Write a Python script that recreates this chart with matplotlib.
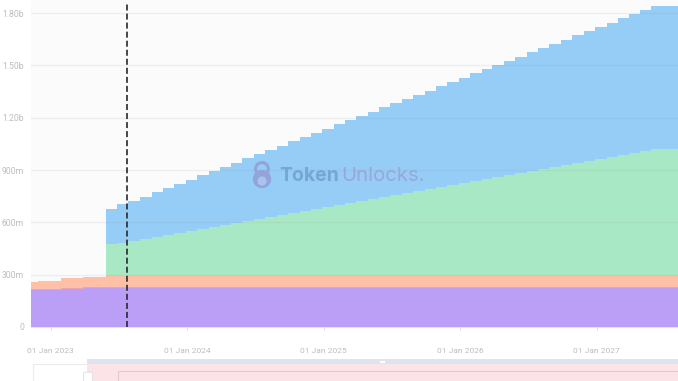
import pandas as pd
from matplotlib import pyplot as plt
from matplotlib.patches import Circle, FancyBboxPatch, Rectangle

W, H = 678, 381

# month starts of each unlock step, they fall near the 28th in the source chart
dates = pd.date_range('2022-10-28', '2027-08-28', freq=pd.DateOffset(months=1))
unlock_start = 7

# cumulative tops of the stack, in millions
purple_top = [216, 216, 216, 225, 225, 231, 231] + [231] * 52
salmon_top = [258, 264, 264, 279, 279, 288, 288] + [291] * 52
green_top = [476, 484, 495, 506, 518, 529, 540, 552, 563, 574, 586, 597, 608, 620, 631,
             643, 654, 665, 677, 688, 699, 711, 722, 734, 745, 756, 768, 779, 790, 802,
             813, 825, 836, 847, 859, 870, 881, 893, 904, 916, 927, 938, 950, 961, 973,
             985, 997, 1009, 1021, 1021, 1021, 1021]
blue_top = [676, 703, 724, 748, 772, 797, 821, 845, 870, 894, 918, 943, 967, 991, 1016,
            1040, 1064, 1089, 1113, 1137, 1162, 1186, 1210, 1235, 1259, 1283, 1308, 1332,
            1356, 1381, 1405, 1429, 1454, 1478, 1502, 1527, 1551, 1575, 1600, 1624, 1648,
            1672, 1697, 1721, 1745, 1769, 1793, 1817, 1841, 1841, 1841, 1841]

y_ticks = [0, 300, 600, 900, 1200, 1500, 1800]
y_labels = ['0', '300m', '600m', '900m', '1.20b', '1.50b', '1.80b']
x_ticks = pd.to_datetime(['2023-01-01', '2024-01-01', '2025-01-01', '2026-01-01', '2027-01-01'])
x_labels = ['01 Jan 2023', '01 Jan 2024', '01 Jan 2025', '01 Jan 2026', '01 Jan 2027']
today = pd.Timestamp('2023-07-23')


def px_box(x0, y0, x1, y1):
    # image pixels (y down) to figure fractions
    return x0 / W, 1 - y1 / H, (x1 - x0) / W, (y1 - y0) / H


def px_rect(x0, y0, x1, y1, **kw):
    l, b, w, h = px_box(x0, y0, x1, y1)
    fig.add_artist(Rectangle((l, b), w, h, transform=fig.transFigure, **kw))


def px_circle(cx, cy, r, **kw):
    # transform=None means display pixels, which is what dpi=100 gives here
    fig.add_artist(Circle((cx, H - cy), r, transform=None, zorder=6, **kw))


plt.rcParams['font.family'] = ['Roboto', 'DejaVu Sans']
fig = plt.figure(figsize=(W / 100, H / 100), dpi=100, facecolor='white')
ax = fig.add_axes(px_box(30.5, 0, 678, 327), facecolor='#fbfbfb')

ax.fill_between(dates, 0, purple_top, step='post', color='#bb9ef5', lw=0, zorder=2)
ax.fill_between(dates, purple_top, salmon_top, step='post', color='#fec0a6', lw=0, zorder=2)
ax.plot(dates, purple_top, drawstyle='steps-post', color='#f5a59f', lw=0.6, zorder=2)
g_dates = dates[unlock_start:]
s_top = salmon_top[unlock_start:]
ax.fill_between(g_dates, s_top, green_top, step='post', color='#a9e8c4', lw=0, zorder=2)
ax.fill_between(g_dates, green_top, blue_top, step='post', color='#96cdf6', lw=0, zorder=2)

for v in y_ticks[1:]:
    ax.axhline(v, color='#8a8a8a', alpha=0.11, lw=1, zorder=3)
ax.axvline(today, color='#2d2d33', alpha=0.88, lw=1.4, dashes=(3.1, 1.55), ymax=0.995, zorder=4)

ax.set_xlim(pd.Timestamp('2022-11-08'), pd.Timestamp('2027-08-07'))
ax.set_ylim(0, 1875)
ax.set_yticks(y_ticks, y_labels)
ax.set_xticks(x_ticks, x_labels)
ax.tick_params(axis='y', length=0, pad=4.6, labelsize=6.2, labelcolor='#bdbdbd')
ax.tick_params(axis='x', length=2.5, width=0.7, color='#e0e0e0', pad=12.5, labelsize=6.0,
               labelcolor='#bdbdbd')
for name in ['top', 'right', 'left']:
    ax.spines[name].set_visible(False)
ax.spines['bottom'].set_color('#e6e6e6')
ax.spines['bottom'].set_linewidth(0.7)

# watermark
wm = '#93a3dc'
fig.text(279 / W, 1 - 176 / H, 'Token', fontfamily='Inter', fontsize=14, fontweight='bold',
         color='#76a6d6', va='center', ha='left', zorder=6)
fig.text(341 / W, 1 - 176 / H, 'Unlocks.', fontfamily='Inter', fontsize=14.6, color='#9aa6d8',
         va='center', ha='left', zorder=6)
px_circle(262, 169, 6.4, fc='none', ec=wm, lw=2.2)
px_circle(262, 179, 9.2, fc=wm, ec='none')
px_circle(262, 181, 4.6, fc='#a9c4ec', ec='none')

# range slider under the chart
px_rect(87, 359, 678, 364, fc='#dfe3f0', ec='none')
px_rect(87, 364, 678, 381, fc='#fbe3e7', ec='none')
px_rect(118, 370.5, 690, 390, fc='none', ec='#e8c6cc', lw=0.8)
px_rect(33, 364, 87, 390, fc='white', ec='#ececec', lw=0.8)
fig.add_artist(FancyBboxPatch((85 / W, 1 - 381 / H), 6 / W, 8 / H, transform=fig.transFigure,
                              boxstyle='round,pad=0.002', fc='white', ec='#dddddd', lw=0.6))
px_rect(379, 359.5, 385, 362.5, fc='white', ec='#dddddd', lw=0.4)

fig.savefig('out.png', dpi=100)
